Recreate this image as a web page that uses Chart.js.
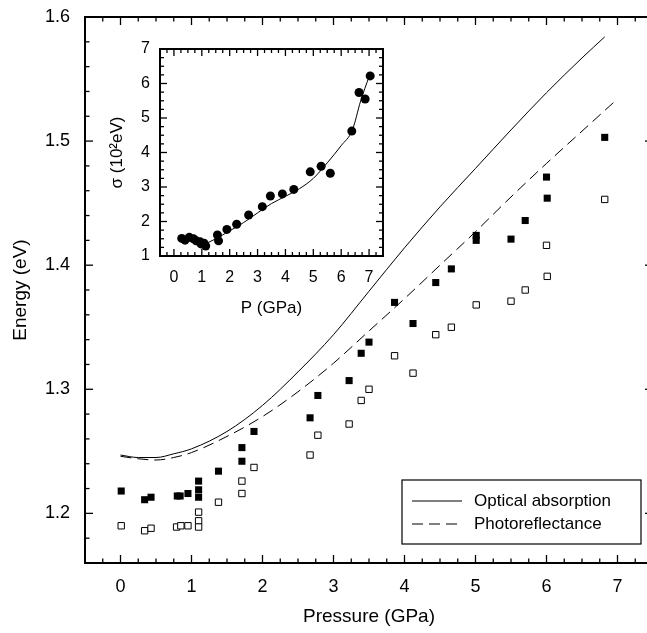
<!DOCTYPE html>
<html>
<head>
<meta charset="utf-8">
<script src="https://cdn.jsdelivr.net/npm/chart.js@4"></script>
<style>
  html, body { margin: 0; padding: 0; background: #fff; overflow: hidden; }
  #wrap { position: relative; width: 647px; height: 633px; overflow: hidden; }
  #main { position: absolute; left: 0; top: 0; }
  #inset { position: absolute; left: 95px; top: 35px; }
</style>
</head>
<body>
<div id="wrap">
  <canvas id="main" width="660" height="633"></canvas>
  <canvas id="inset" width="300" height="290"></canvas>
</div>
<script>
// ---- main panel data (pressure in GPa, energy in eV) ----
const absP = [0, 0.25, 0.5, 0.75, 1.0, 1.5, 2.0, 2.5, 3.0, 3.5, 4.0, 4.5, 5.0, 5.5, 6.0, 6.5, 6.82];
const absE = [1.247, 1.245, 1.245, 1.248, 1.252, 1.266, 1.287, 1.314, 1.344, 1.379, 1.414, 1.447, 1.478, 1.509, 1.539, 1.567, 1.584];

const prP = [0, 0.25, 0.5, 0.75, 1.0, 1.5, 2.0, 2.5, 3.0, 3.5, 4.0, 4.5, 5.0, 5.5, 6.0, 6.5, 7.0];
const prE = [1.246, 1.244, 1.243, 1.245, 1.249, 1.262, 1.278, 1.298, 1.321, 1.347, 1.373, 1.400, 1.427, 1.455, 1.482, 1.508, 1.534];

const filledP = [0.01, 0.34, 0.43, 0.80, 0.84, 0.95, 1.10, 1.10, 1.10, 1.38, 1.71, 1.71, 1.88, 2.67, 2.78, 3.22, 3.39, 3.50, 3.86, 4.12, 4.44, 4.66, 5.01, 5.01, 5.50, 5.70, 6.00, 6.01, 6.82];
const filledE = [1.218, 1.211, 1.213, 1.214, 1.214, 1.216, 1.226, 1.219, 1.213, 1.234, 1.253, 1.242, 1.266, 1.277, 1.295, 1.307, 1.329, 1.338, 1.370, 1.353, 1.386, 1.397, 1.424, 1.420, 1.421, 1.436, 1.471, 1.454, 1.503];

const openP = [0.01, 0.34, 0.43, 0.79, 0.85, 0.95, 1.10, 1.10, 1.10, 1.38, 1.71, 1.71, 1.88, 2.67, 2.78, 3.22, 3.39, 3.50, 3.86, 4.12, 4.44, 4.66, 5.01, 5.50, 5.70, 6.00, 6.01, 6.82];
const openE = [1.190, 1.186, 1.188, 1.189, 1.190, 1.190, 1.201, 1.194, 1.189, 1.209, 1.226, 1.216, 1.237, 1.247, 1.263, 1.272, 1.291, 1.300, 1.327, 1.313, 1.344, 1.350, 1.368, 1.371, 1.380, 1.416, 1.391, 1.453];

const mainXTicks = [0, 1, 2, 3, 4, 5, 6, 7];
const mainYTicks = [1.2, 1.3, 1.4, 1.5, 1.6];

// ---- inset data (sigma in 10^-2 eV) ----
const sigP = [0.28, 0.40, 0.55, 0.70, 0.80, 0.94, 0.97, 1.08, 1.14, 1.56, 1.60, 1.90, 2.25, 2.68, 3.17, 3.46, 3.89, 4.30, 4.89, 5.28, 5.61, 6.38, 6.64, 6.86, 7.04];
const sigV = [1.51, 1.46, 1.54, 1.50, 1.44, 1.41, 1.35, 1.37, 1.29, 1.61, 1.44, 1.77, 1.92, 2.19, 2.43, 2.74, 2.80, 2.93, 3.44, 3.60, 3.40, 4.62, 5.74, 5.55, 6.22];

const fitP = [1.0, 1.5, 2.0, 2.5, 3.0, 3.5, 4.0, 4.5, 5.0, 5.5, 6.0, 6.4, 6.7, 7.0];
const fitV = [1.30, 1.50, 1.73, 1.97, 2.25, 2.52, 2.73, 2.95, 3.25, 3.70, 4.20, 4.65, 5.50, 6.20];

const insetXTicks = [0, 1, 2, 3, 4, 5, 6, 7];
const insetYTicks = [1, 2, 3, 4, 5, 6, 7];

const pts = (xs, ys) => xs.map((v, i) => ({ x: v, y: ys[i] }));

Chart.defaults.font.family = "Arial, 'Liberation Sans', sans-serif";
Chart.defaults.color = '#000';

// white plot area, full frame and inward ticks on all four sides
const frameTicks = {
  id: 'frameTicks',
  beforeDraw(chart) {
    const a = chart.chartArea;
    chart.ctx.save();
    chart.ctx.fillStyle = '#fff';
    chart.ctx.fillRect(a.left, a.top, a.width, a.height);
    chart.ctx.restore();
  },
  afterDraw(chart, args, o) {
    const { ctx, chartArea: a, scales: { x, y } } = chart;
    ctx.save();
    ctx.strokeStyle = '#000';
    ctx.lineWidth = 1.3;
    const seg = (x1, y1, x2, y2) => { ctx.beginPath(); ctx.moveTo(x1, y1); ctx.lineTo(x2, y2); ctx.stroke(); };
    const each = (min, max, step, major, fn) => {
      for (let n = Math.ceil(min / step - 1e-9); n <= Math.floor(max / step + 1e-9); n++) {
        const v = n * step;
        if (Math.abs(v - min) < 1e-9 || Math.abs(v - max) < 1e-9) continue;
        const isMajor = Math.abs(v / major - Math.round(v / major)) < 1e-6;
        fn(v, isMajor ? o.majorLen : o.minorLen);
      }
    };
    each(x.min, x.max, o.xMinor, o.xMajor, (v, len) => {
      const px = x.getPixelForValue(v);
      seg(px, a.bottom, px, a.bottom - len);
      seg(px, a.top, px, a.top + len);
    });
    each(y.min, y.max, o.yMinor, o.yMajor, (v, len) => {
      const py = y.getPixelForValue(v);
      seg(a.left, py, a.left + len, py);
      seg(a.right, py, a.right - len, py);
    });
    ctx.lineWidth = o.frameWidth;
    ctx.strokeRect(a.left, a.top, a.width, a.height);
    ctx.restore();
  }
};

// boxed legend in the lower right corner
const boxLegend = {
  id: 'boxLegend',
  afterDraw(chart, args, o) {
    const { ctx, chartArea: a } = chart;
    const left = a.right - o.right - o.width;
    const top = a.bottom - o.bottom - o.height;
    ctx.save();
    ctx.fillStyle = '#fff';
    ctx.fillRect(left, top, o.width, o.height);
    ctx.strokeStyle = '#000';
    ctx.lineWidth = 1.2;
    ctx.strokeRect(left, top, o.width, o.height);
    ctx.font = '17px Arial, "Liberation Sans", sans-serif';
    ctx.textBaseline = 'middle';
    ctx.fillStyle = '#000';
    chart.data.datasets.filter(d => d.inLegend).forEach((d, i) => {
      const yy = top + 21 + i * 23;
      ctx.lineWidth = 1;
      ctx.setLineDash(d.borderDash || []);
      ctx.beginPath();
      ctx.moveTo(left + 10, yy);
      ctx.lineTo(left + 60, yy);
      ctx.stroke();
      ctx.setLineDash([]);
      ctx.fillText(d.label, left + 72, yy);
    });
    ctx.restore();
  }
};

// fixed scale boxes, no overflow padding from edge labels
const fixX = h => s => { s.height = h; s.paddingLeft = 0; s.paddingRight = 0; };
const fixY = w => s => { s.width = w; s.paddingTop = 0; s.paddingBottom = 0; };

new Chart(document.getElementById('main'), {
  type: 'scatter',
  data: {
    datasets: [
      { label: 'Optical absorption', inLegend: true, type: 'line', data: pts(absP, absE),
        borderColor: '#000', borderWidth: 1, pointRadius: 0, cubicInterpolationMode: 'monotone', fill: false },
      { label: 'Photoreflectance', inLegend: true, type: 'line', data: pts(prP, prE),
        borderColor: '#000', borderWidth: 1, borderDash: [11, 6], pointRadius: 0, cubicInterpolationMode: 'monotone', fill: false },
      { label: 'filled', data: pts(filledP, filledE), pointStyle: 'rect', pointRadius: 5,
        backgroundColor: '#000', borderColor: '#000', borderWidth: 0 },
      { label: 'open', data: pts(openP, openE), pointStyle: 'rect', pointRadius: 4.5,
        backgroundColor: '#fff', borderColor: '#000', borderWidth: 1 }
    ]
  },
  options: {
    responsive: false,
    animation: false,
    devicePixelRatio: 1,
    layout: { padding: { top: 17, right: 7, left: 0, bottom: 0 } },
    plugins: {
      legend: { display: false },
      tooltip: { enabled: false },
      frameTicks: { xMinor: 0.25, xMajor: 1, yMinor: 0.02, yMajor: 0.1, majorLen: 8, minorLen: 4.5, frameWidth: 2 },
      boxLegend: { width: 239, height: 64, right: 12, bottom: 19 }
    },
    scales: {
      x: {
        type: 'linear', min: -0.5, max: 7.5,
        afterBuildTicks: s => { s.ticks = mainXTicks.map(v => ({ value: v })); },
        afterFit: fixX(70),
        grid: { display: false, drawTicks: false },
        border: { display: false },
        ticks: { font: { size: 18 }, padding: 13, maxRotation: 0, color: '#000', callback: v => String(v) },
        title: { display: true, text: 'Pressure (GPa)', font: { size: 19 }, color: '#000', padding: { top: 0, bottom: 5 } }
      },
      y: {
        type: 'linear', min: 1.16, max: 1.6,
        afterBuildTicks: s => { s.ticks = mainYTicks.map(v => ({ value: v })); },
        afterFit: fixY(85),
        grid: { display: false, drawTicks: false },
        border: { display: false },
        ticks: { font: { size: 18 }, padding: 15, color: '#000', callback: v => v.toFixed(1) },
        title: { display: true, text: 'Energy (eV)', font: { size: 19 }, color: '#000', padding: { top: 9, bottom: 0 } }
      }
    }
  },
  plugins: [frameTicks, boxLegend]
});

new Chart(document.getElementById('inset'), {
  type: 'scatter',
  data: {
    datasets: [
      { label: 'fit', type: 'line', data: pts(fitP, fitV), borderColor: '#000', borderWidth: 1,
        pointRadius: 0, cubicInterpolationMode: 'monotone', fill: false },
      { label: 'sigma', data: pts(sigP, sigV), pointStyle: 'circle', pointRadius: 4.5,
        backgroundColor: '#000', borderColor: '#000', borderWidth: 0 }
    ]
  },
  options: {
    responsive: false,
    animation: false,
    devicePixelRatio: 1,
    layout: { padding: { top: 14, right: 12, left: 0, bottom: 0 } },
    plugins: {
      legend: { display: false },
      tooltip: { enabled: false },
      frameTicks: { xMinor: 0.25, xMajor: 1, yMinor: 0.25, yMajor: 1, majorLen: 7, minorLen: 4, frameWidth: 2 }
    },
    scales: {
      x: {
        type: 'linear', min: -0.5, max: 7.5,
        afterBuildTicks: s => { s.ticks = insetXTicks.map(v => ({ value: v })); },
        afterFit: fixX(69),
        grid: { display: false, drawTicks: false },
        border: { display: false },
        ticks: { font: { size: 16 }, padding: 12, maxRotation: 0, color: '#000', callback: v => String(v) },
        title: { display: true, text: 'P (GPa)', font: { size: 17 }, color: '#000', padding: { top: 0, bottom: 6 } }
      },
      y: {
        type: 'linear', min: 1, max: 7,
        afterBuildTicks: s => { s.ticks = insetYTicks.map(v => ({ value: v })); },
        afterFit: fixY(65),
        grid: { display: false, drawTicks: false },
        border: { display: false },
        ticks: { font: { size: 16 }, padding: 10, color: '#000', callback: v => String(v) },
        title: { display: true, text: 'σ (10²eV)', font: { size: 17 }, color: '#000', padding: { top: 12, bottom: 0 } }
      }
    }
  },
  plugins: [frameTicks]
});
</script>
</body>
</html>
